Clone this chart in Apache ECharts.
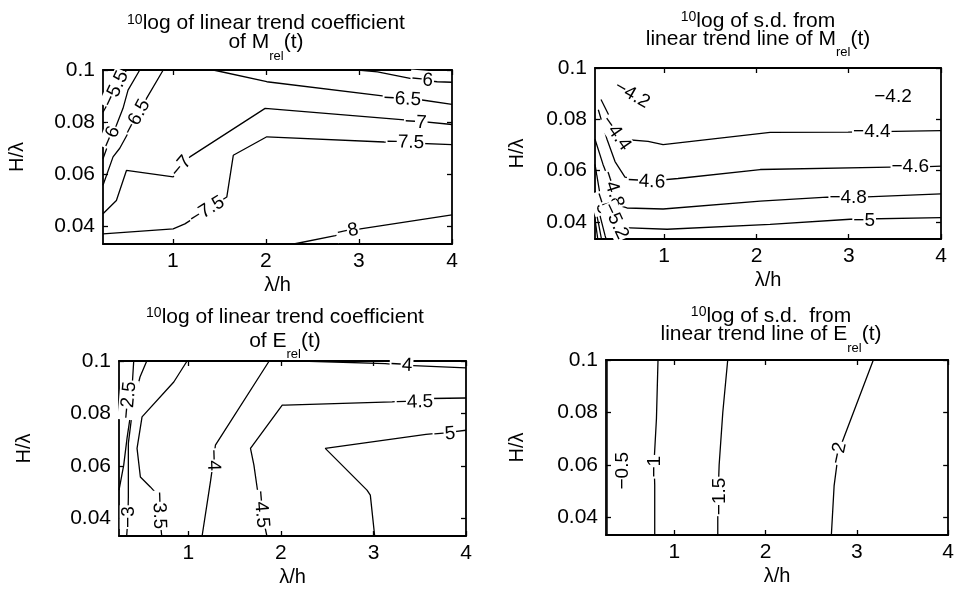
<!DOCTYPE html>
<html><head><meta charset="utf-8">
<script src="https://cdn.jsdelivr.net/npm/echarts@6/dist/echarts.min.js"></script>
<style>html,body{margin:0;padding:0;background:#fff}#c{width:957px;height:591px}</style>
</head><body><div id="c"></div>
<script>
// ---------------- data ----------------
const xTicks = [1, 2, 3, 4];
const yTicks = [0.04, 0.06, 0.08, 0.1];
const xLimits = [0.25, 4];
const yLimits = [0.0333, 0.1];

// Panel A: 10log of linear trend coefficient of M_rel(t)  -- contour polylines [λ/h, H/λ]
const mTrend_55  = [[0.505,0.1],[0.43,0.0962],[0.387,0.0927],[0.322,0.0885],[0.25,0.0838]];
const mTrend_6a  = [[0.645,0.1],[0.519,0.0923],[0.465,0.0853],[0.394,0.0788],[0.333,0.0742],[0.25,0.066]];
const mTrend_65a = [[0.897,0.1],[0.718,0.0891],[0.613,0.0819],[0.43,0.07],[0.358,0.0667],[0.25,0.0558]];
const mTrend_6b  = [[2.99,0.1],[3.2,0.0993],[3.59,0.0965],[3.84,0.0955],[4,0.0953]];
const mTrend_65b = [[1.435,0.1],[2.01,0.0955],[3.34,0.0897],[3.68,0.0885],[4,0.0868]];
const mTrend_7   = [[0.25,0.0449],[0.394,0.05],[0.502,0.0615],[1.004,0.059],[1.184,0.0667],[1.992,0.0853],[3.52,0.0808],[4,0.0791]];
const mTrend_75  = [[0.25,0.0372],[1.004,0.0391],[1.13,0.041],[1.58,0.0513],[1.65,0.0673],[2.01,0.0744],[3.27,0.0724],[4,0.0714]];
const mTrend_8   = [[2.3,0.0333],[2.747,0.0365],[3.016,0.0391],[4,0.0445]];
const mTrendLabelText = ['−5.5','−6','−6.5','−7','−7.5','−6','−6.5','−7','−7.5','−8'];
const mTrendLabelX    = [0.387,0.333,0.613,1.09,1.367,3.68,3.466,3.61,3.5,2.88];
const mTrendLabelY    = [0.0927,0.0742,0.0819,0.063,0.0462,0.0962,0.0888,0.0799,0.0722,0.0381];

// Panel B: 10log of s.d. from linear trend line of M_rel(t)
const mSd_44 = [[0.315,0.0877],[0.434,0.0791],[0.543,0.0722],[0.825,0.0714],[0.988,0.0701],[2.148,0.0749],[2.994,0.075],[4,0.0756]];
const mSd_46 = [[0.286,0.0837],[0.38,0.0722],[0.467,0.0635],[0.575,0.0574],[0.803,0.0558],[1.15,0.0569],[2.04,0.0604],[3.45,0.0613],[3.72,0.0613],[4,0.0617]];
const mSd_48 = [[0.25,0.0722],[0.337,0.0624],[0.44,0.0527],[0.467,0.0469],[0.597,0.0454],[0.988,0.045],[2.04,0.0481],[2.766,0.0496],[2.994,0.0494],[4,0.0509]];
const mSd_5  = [[0.25,0.0624],[0.304,0.0508],[0.358,0.045],[0.434,0.0403],[0.554,0.0377],[1.031,0.0371],[2.148,0.039],[3.016,0.041],[4,0.0416]];
const mSd_52 = [[0.25,0.052],[0.3,0.043],[0.36,0.0345],[0.37,0.0333]];
const mSd_54 = [[0.25,0.046],[0.29,0.039],[0.32,0.0333]];
const mSd_56 = [[0.25,0.041],[0.28,0.0333]];
const mSdLabelText = ['−4.2','−4.2','−4.4','−4.4','−4.6','−4.6','−4.8','−4.8','−5','−5','−5.2'];
const mSdLabelX    = [0.651,3.48,0.478,3.25,0.808,3.667,0.44,2.994,3.167,0.315,0.472];
const mSdLabelY    = [0.0896,0.0889,0.0745,0.075,0.0557,0.0614,0.0527,0.0494,0.0403,0.0473,0.0403];

// Panel C: 10log of linear trend coefficient of E_rel(t)
const eTrend_25 = [[0.409,0.1],[0.391,0.0896],[0.369,0.0782],[0.337,0.0706],[0.301,0.0603],[0.25,0.0508]];
const eTrend_3  = [[0.55,0.1],[0.477,0.0939],[0.405,0.0838],[0.351,0.0686],[0.351,0.0482],[0.347,0.0405],[0.333,0.0333]];
const eTrend_35 = [[0.986,0.1],[0.842,0.092],[0.499,0.0787],[0.445,0.0667],[0.481,0.0558],[0.589,0.052],[0.64,0.05],[0.683,0.0431],[0.712,0.0333]];
const eTrend_4a = [[1.873,0.1],[1.292,0.0679],[1.256,0.0584],[1.238,0.0539],[1.148,0.0333]];
const eTrend_45 = [[4,0.0859],[3.616,0.0857],[3.201,0.0844],[2.046,0.0832],[2.014,0.0832],[1.671,0.0667],[1.708,0.0603],[1.744,0.0514],[1.787,0.0435],[1.848,0.0333]];
const eTrend_5  = [[4,0.0736],[3.856,0.073],[3.568,0.072],[2.479,0.0667],[2.93,0.0508],[2.966,0.0489],[3.013,0.0333]];
const eTrend_4b = [[2.209,0.1],[3.129,0.099],[3.302,0.0984],[4,0.0974]];
const eTrendLabelText = ['−2.5','−3','−3.5','−4','−4.5','−4','−4.5','−5'];
const eTrendLabelX    = [0.353,0.36,0.683,1.267,1.787,3.302,3.443,3.767];
const eTrendLabelY    = [0.0851,0.0405,0.0431,0.0622,0.0435,0.0984,0.0843,0.0721];

// Panel D: 10log of s.d. from linear trend line of E_rel(t)
const eSd_05 = [[0.262,0.0333],[0.262,0.1]];
const eSd_1  = [[0.82,0.1],[0.803,0.0777],[0.777,0.0612],[0.784,0.0524],[0.784,0.0333]];
const eSd_15 = [[1.584,0.1],[1.53,0.08],[1.49,0.06],[1.475,0.045],[1.475,0.0333]];
const eSd_2  = [[3.18,0.1],[2.82,0.067],[2.78,0.06],[2.75,0.052],[2.72,0.0333]];
const eSdLabelText = ['−0.5','−1','−1.5','−2'];
const eSdLabelX    = [0.435,0.784,1.493,2.80];
const eSdLabelY    = [0.0578,0.0593,0.048,0.0645];

// ---------------- styling / layout ----------------
const FONT = '"Liberation Sans", Arial, Helvetica, sans-serif';
const panels = [
  { grid:{left:103,top:70,width:349,height:174}, tx:266, ty:25, lh:19, yGap:76,
    l1:'linear trend coefficient', pre:'log of ', l2a:'of M', l2b:'(t)',
    lines:[mTrend_55,mTrend_6a,mTrend_65a,mTrend_6b,mTrend_65b,mTrend_7,mTrend_75,mTrend_8],
    lt:mTrendLabelText, lx:mTrendLabelX, ly:mTrendLabelY, rot:[65,67,62,50,32,-5,-3,-3,-1,12] },
  { grid:{left:595,top:68,width:346,height:171}, tx:758, ty:23.3, lh:18, yGap:68,
    l1:'s.d. from', pre:'log of ', l2a:'linear trend line of M', l2b:'(t)',
    lines:[mSd_44,mSd_46,mSd_48,mSd_5,mSd_52,mSd_54,mSd_56],
    lt:mSdLabelText, lx:mSdLabelX, ly:mSdLabelY, rot:[-30,0,-55,0,-3,0,-72,0,0,-72,-65] },
  { grid:{left:119,top:361,width:347,height:175}, tx:285, ty:313.3, lh:24, yGap:85,
    l1:'linear trend coefficient', pre:'log of ', l2a:'of E', l2b:'(t)',
    lines:[eTrend_25,eTrend_3,eTrend_35,eTrend_4a,eTrend_45,eTrend_5,eTrend_4b],
    lt:eTrendLabelText, lx:eTrendLabelX, ly:eTrendLabelY, rot:[85,90,-88,-88,-85,-3,2,5] },
  { grid:{left:606,top:360,width:344,height:175}, tx:771, ty:318, lh:18.3, yGap:79,
    l1:'s.d.  from', pre:'log of ', l2a:'linear trend line of E', l2b:'(t)',
    lines:[eSd_05,eSd_1,eSd_15,eSd_2],
    lt:eSdLabelText, lx:eSdLabelX, ly:eSdLabelY, rot:[90,90,90,78] }
];

const grids = [], xAxes = [], yAxes = [], series = [], titles = [];
const lineStyleAxis = { color:'#000', width:1.8 };
panels.forEach((p, k) => {
  grids.push(Object.assign({ containLabel:false }, p.grid));
  const tick = { show:true, inside:true, length:5, lineStyle:{color:'#000', width:1.3} };
  xAxes.push({ type:'value', gridIndex:k, position:'bottom', min:xLimits[0], max:xLimits[1],
    axisLine:{show:true, onZero:false, lineStyle:lineStyleAxis},
    axisTick:Object.assign({customValues:xTicks}, tick),
    axisLabel:{customValues:xTicks, fontSize:21, fontFamily:FONT, color:'#000', margin:7},
    splitLine:{show:false}, name:'λ/h', nameLocation:'middle', nameGap:31,
    nameTextStyle:{fontSize:20, fontFamily:FONT, color:'#000'} });
  xAxes.push({ type:'value', gridIndex:k, position:'top', min:xLimits[0], max:xLimits[1],
    axisLine:{show:true, onZero:false, lineStyle:lineStyleAxis},
    axisTick:Object.assign({customValues:xTicks}, tick),
    axisLabel:{show:false}, splitLine:{show:false} });
  yAxes.push({ type:'value', gridIndex:k, position:'left', min:yLimits[0], max:yLimits[1],
    axisLine:{show:true, onZero:false, lineStyle:lineStyleAxis},
    axisTick:Object.assign({customValues:yTicks}, tick),
    axisLabel:{customValues:yTicks, fontSize:21, fontFamily:FONT, color:'#000', margin:8},
    splitLine:{show:false}, name:'H/λ', nameLocation:'middle', nameGap:p.yGap,
    nameTextStyle:{fontSize:20, fontFamily:FONT, color:'#000'} });
  yAxes.push({ type:'value', gridIndex:k, position:'right', min:yLimits[0], max:yLimits[1],
    axisLine:{show:true, onZero:false, lineStyle:lineStyleAxis},
    axisTick:Object.assign({customValues:yTicks}, tick),
    axisLabel:{show:false}, splitLine:{show:false} });

  p.lines.forEach(pts => {
    series.push({ type:'line', xAxisIndex:2*k, yAxisIndex:2*k, data:pts, symbol:'none',
      lineStyle:{color:'#000', width:1.3}, silent:true, z:2, clip:true });
  });
  series.push({ type:'scatter', xAxisIndex:2*k, yAxisIndex:2*k, symbolSize:1, silent:true, z:5,
    itemStyle:{color:'#fff', opacity:1},
    data:p.lt.map((t,i)=>({ name:t, value:[p.lx[i], p.ly[i]], label:{rotate:p.rot[i]} })),
    label:{show:true, position:'inside', formatter:'{b}', fontSize:19, fontFamily:FONT,
      color:'#000', opacity:1, textBorderWidth:0, textBorderColor:'transparent',
      backgroundColor:'#fff', padding:[0,1]} });

  const LH = p.lh;
  const base = {fontFamily:FONT, color:'#000', fontWeight:'normal', verticalAlign:'bottom', lineHeight:LH};
  titles.push({ left:p.tx, top:p.ty, textAlign:'center', padding:0, itemGap:0,
    text:'{sup|10}{t|' + p.pre + p.l1 + '}\n{t|' + p.l2a + '}{sub|rel}{t|' + p.l2b + '}',
    textStyle:{ fontWeight:'normal', fontFamily:FONT, color:'#000', rich:{
      t:Object.assign({fontSize:21, padding:[0,0,10,0]}, base),
      sup:Object.assign({fontSize:14, padding:[0,0,17,0]}, base),
      sub:Object.assign({fontSize:13, padding:[0,0,0,0]}, base)
    }} });
});

const chart = echarts.init(document.getElementById('c'), null, {renderer:'canvas'});
chart.setOption({ animation:false, backgroundColor:'#fff', title:titles, grid:grids,
  xAxis:xAxes, yAxis:yAxes, series:series });
</script></body></html>
